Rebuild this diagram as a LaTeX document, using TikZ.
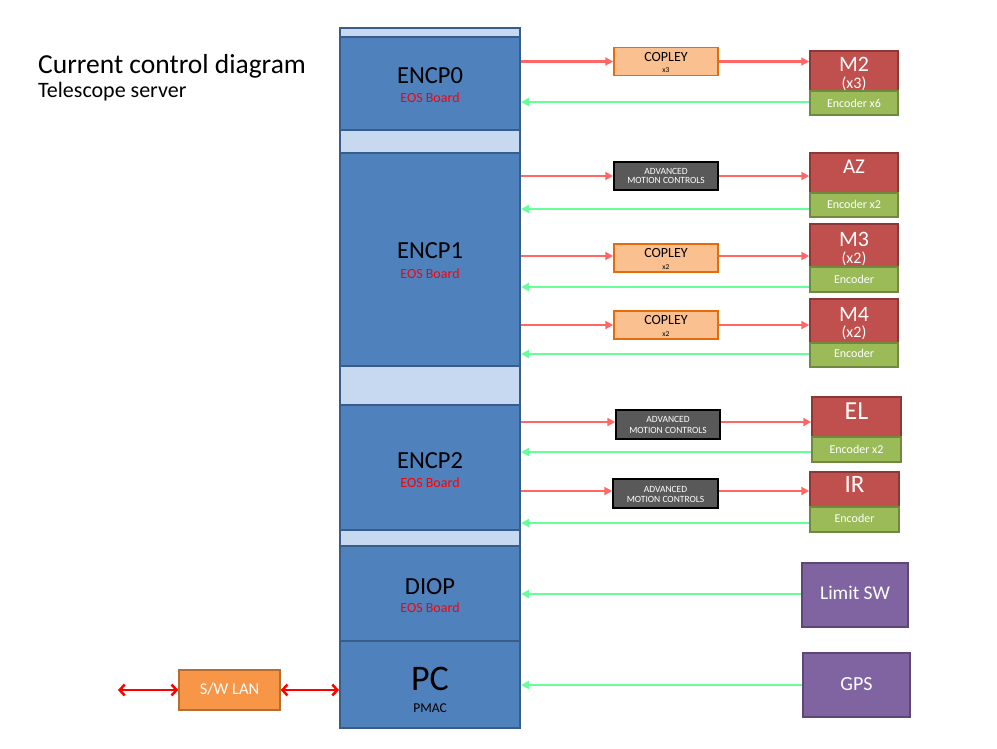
\documentclass[tikz,border=0pt]{standalone}
\usepackage{fontspec}
\setmainfont{Carlito}
\usetikzlibrary{arrows.meta}
\definecolor{blkfill}{HTML}{4F81BD}
\definecolor{blkline}{HTML}{385D8A}
\definecolor{gapfill}{HTML}{C6D9F1}
\definecolor{copfill}{HTML}{FAC090}
\definecolor{copline}{HTML}{E46C0A}
\definecolor{amcfill}{HTML}{595959}
\definecolor{motfill}{HTML}{C0504D}
\definecolor{motline}{HTML}{8C3836}
\definecolor{encfill}{HTML}{9BBB59}
\definecolor{encline}{HTML}{71893F}
\definecolor{purfill}{HTML}{8064A2}
\definecolor{purline}{HTML}{5C4776}
\definecolor{lanfill}{HTML}{F79646}
\definecolor{lanline}{HTML}{B66D31}
\definecolor{redarr}{HTML}{FF6666}
\definecolor{grnarr}{HTML}{66FF99}
\newcommand\fsz[1]{\fontsize{#1}{#1}\selectfont}
\tikzset{
 box/.style={rectangle, inner sep=0pt, line width=1.5pt},
 blk/.style={box, draw=blkline, fill=blkfill, line width=2pt, minimum width=180},
 cop/.style={box, draw=copline, fill=copfill, minimum width=104, minimum height=28},
 amc/.style={box, draw=black, fill=amcfill, minimum width=104, minimum height=28},
 mot/.style={box, draw=motline, fill=motfill, minimum width=88},
 enc/.style={box, draw=encline, fill=encfill, minimum width=88, minimum height=24},
 pur/.style={box, draw=purline, fill=purfill},
 lanbox/.style={box, draw=lanline, fill=lanfill},
 tx/.style={anchor=base, inner sep=0pt},
 ra/.style={draw=redarr, line width=2.5pt, -{Triangle[length=8pt,width=8pt]}},
 ga/.style={draw=grnarr, line width=2.5pt, -{Triangle[length=8pt,width=8pt]}},
 la/.style={draw=red, line width=2.5pt, {Straight Barb[length=5pt,width=11pt]}-{Straight Barb[length=5pt,width=11pt]}},
}
\begin{document}
\begin{tikzpicture}[x=1pt,y=-1pt]
\useasboundingbox (0,0) rectangle (997,748);
% title
\node[anchor=base west, inner sep=0pt] (title) at (38,73) {\fsz{27.5}Current control diagram};
\node[anchor=base west, inner sep=0pt] (subtitle) at (38,97) {\fsz{22}Telescope server};
% main column
\node[box, draw=blkline, fill=gapfill, line width=2pt, minimum width=180, minimum height=700] (col) at (430,378) {};
\node[blk, minimum height=93] (enc0) at (430,83.5) {};
\node[blk, minimum height=213] (enc1) at (430,259.5) {};
\node[blk, minimum height=125] (enc2) at (430,467.5) {};
\node[blk, minimum height=95] (diop) at (430,593.5) {};
\node[blk, minimum height=87] (pc) at (430,684.5) {};
\node[tx] (enc0t) at (430,83) {\fsz{24.5}ENCP0};
\node[tx, text=red] (enc0s) at (430,102) {\fsz{14}EOS Board};
\node[tx] (enc1t) at (430,258) {\fsz{24.5}ENCP1};
\node[tx, text=red] (enc1s) at (430,278) {\fsz{14}EOS Board};
\node[tx] (enc2t) at (430,468) {\fsz{24.5}ENCP2};
\node[tx, text=red] (enc2s) at (430,487) {\fsz{14}EOS Board};
\node[tx] (diopt) at (430,594) {\fsz{24.5}DIOP};
\node[tx, text=red] (diops) at (430,612) {\fsz{14}EOS Board};
\node[tx] (pct) at (430,690) {\fsz{36}PC};
\node[tx] (pcs) at (430,712) {\fsz{13.5}PMAC};
% drivers
\node[cop] (cop1) at (666,61.5) {};
\node[tx] (cop1t) at (666,61) {\fsz{14}COPLEY};
\node[tx] (cop1s) at (666,72) {\fsz{7.5}x3};
\node[amc] (amc1) at (666,176) {};
\node[tx, text=white] (amc1a) at (666,174) {\fsz{9.5}ADVANCED};
\node[tx, text=white] (amc1b) at (666,183.5) {\fsz{9.5}MOTION CONTROLS};
\node[cop] (cop2) at (666,258) {};
\node[tx] (cop2t) at (666,257) {\fsz{14}COPLEY};
\node[tx] (cop2s) at (666,269) {\fsz{7.5}x2};
\node[cop] (cop3) at (666,325) {};
\node[tx] (cop3t) at (666,324) {\fsz{14}COPLEY};
\node[tx] (cop3s) at (666,336) {\fsz{7.5}x2};
\node[amc, minimum height=29] (amc2) at (668,424.5) {};
\node[tx, text=white] (amc2a) at (668,422) {\fsz{9.5}ADVANCED};
\node[tx, text=white] (amc2b) at (668,433) {\fsz{9.5}MOTION CONTROLS};
\node[amc, minimum width=105, minimum height=29] (amc3) at (665.5,493.5) {};
\node[tx, text=white] (amc3a) at (665.5,492) {\fsz{9.5}ADVANCED};
\node[tx, text=white] (amc3b) at (665.5,502.5) {\fsz{9.5}MOTION CONTROLS};
% motors
\node[mot, minimum height=40] (m2) at (854,71) {};
\node[enc] (m2e) at (854,103) {};
\node[tx, text=white] (m2t) at (854,71) {\fsz{22}M2};
\node[tx, text=white] (m2s) at (854,88) {\fsz{16}(x3)};
\node[tx, text=white] (m2et) at (854,107) {\fsz{12}Encoder x6};
\node[mot, minimum height=40] (az) at (854,173) {};
\node[enc] (aze) at (854,205) {};
\node[tx, text=white] (azt) at (854,173) {\fsz{21}AZ};
\node[tx, text=white] (azet) at (854,208) {\fsz{12}Encoder x2};
\node[mot, minimum height=43] (m3) at (854,245.5) {};
\node[enc, minimum height=25] (m3e) at (854,279.5) {};
\node[tx, text=white] (m3t) at (854,246) {\fsz{22}M3};
\node[tx, text=white] (m3s) at (854,263) {\fsz{16}(x2)};
\node[tx, text=white] (m3et) at (854,283) {\fsz{12}Encoder};
\node[mot, minimum height=44] (m4) at (854,321) {};
\node[enc] (m4e) at (854,355) {};
\node[tx, text=white] (m4t) at (854,321) {\fsz{22}M4};
\node[tx, text=white] (m4s) at (854,337) {\fsz{16}(x2)};
\node[tx, text=white] (m4et) at (854,357) {\fsz{12}Encoder};
\node[mot, minimum width=89, minimum height=40] (el) at (856.5,417) {};
\node[enc, minimum width=89, minimum height=25] (ele) at (856.5,449.5) {};
\node[tx, text=white] (elt) at (856.5,419) {\fsz{26}EL};
\node[tx, text=white] (elet) at (856.5,453) {\fsz{12}Encoder x2};
\node[mot, minimum width=89, minimum height=35] (ir) at (854.5,489.5) {};
\node[enc, minimum width=89, minimum height=25] (ire) at (854.5,519.5) {};
\node[tx, text=white] (irt) at (854.5,492) {\fsz{25}IR};
\node[tx, text=white] (iret) at (854.5,522) {\fsz{12}Encoder};
% others
\node[pur, minimum width=106, minimum height=64] (lim) at (855,595) {};
\node[tx, text=white] (limt) at (855,599) {\fsz{19.5}Limit SW};
\node[pur, minimum width=107, minimum height=64] (gps) at (856.5,685) {};
\node[tx, text=white] (gpst) at (856.5,690) {\fsz{20}GPS};
\node[lanbox, minimum width=101, minimum height=40] (lan) at (229.5,690) {};
\node[tx, text=white] (lant) at (229.5,694) {\fsz{16.5}S/W LAN};
\coordinate (lanend) at (118,690);
% connector anchor points
\coordinate (g0) at ([yshift=1]m2e.west);
\coordinate (g1) at ([yshift=-4]aze.west);
\coordinate (g2) at ([yshift=-7.5]m3e.west);
\coordinate (g3) at ([yshift=1]m4e.west);
\coordinate (g4) at ([yshift=-2.5]ele.west);
\coordinate (g5) at ([yshift=-3.5]ire.west);
\coordinate (g6) at ([yshift=1]lim.west);
\coordinate (r2) at ([yshift=2]cop2.west);
\coordinate (r2b) at ([yshift=2]cop2.east);
\coordinate (r4) at ([yshift=2.5]amc2.west);
\coordinate (r4b) at ([yshift=2.5]amc2.east);
\coordinate (r5) at ([yshift=2.5]amc3.west);
\coordinate (r5b) at ([yshift=2.5]amc3.east);
% connectors
\draw[ra] (enc0.east |- cop1.west) -- (cop1.west);
\draw[ra] (cop1.east) -- (m2.west |- cop1.east);
\draw[ga] (g0) -- (enc0.east |- g0);
\draw[ra] (enc1.east |- amc1.west) -- (amc1.west);
\draw[ra] (amc1.east) -- (az.west |- amc1.east);
\draw[ga] (g1) -- (enc1.east |- g1);
\draw[ra] (enc1.east |- r2) -- (r2);
\draw[ra] (r2b) -- (m3.west |- r2b);
\draw[ga] (g2) -- (enc1.east |- g2);
\draw[ra] (enc1.east |- cop3.west) -- (cop3.west);
\draw[ra] (cop3.east) -- (m4.west |- cop3.east);
\draw[ga] (g3) -- (enc1.east |- g3);
\draw[ra] (enc2.east |- r4) -- (r4);
\draw[ra] (r4b) -- (el.west |- r4b);
\draw[ga] (g4) -- (enc2.east |- g4);
\draw[ra] (enc2.east |- r5) -- (r5);
\draw[ra] (r5b) -- (ir.west |- r5b);
\draw[ga] (g5) -- (enc2.east |- g5);
\draw[ga] (g6) -- (diop.east |- g6);
\draw[ga] (gps.west) -- (pc.east |- gps.west);
\draw[la] (lanend) -- (lan.west);
\draw[la] (lan.east) -- (pc.west |- lan.east);
\end{tikzpicture}
\end{document}
